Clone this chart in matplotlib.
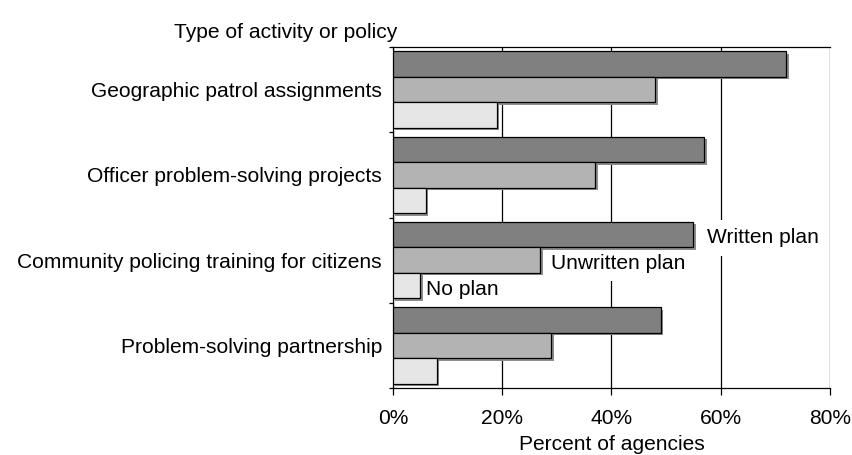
import numpy as np
import matplotlib
matplotlib.use("Agg")
import matplotlib.pyplot as plt
import matplotlib.patheffects as pe

plt.rcParams['font.family'] = ['Liberation Sans', 'DejaVu Sans']

# data (percent of agencies)
activities = ['Geographic patrol assignments',
              'Officer problem-solving projects',
              'Community policing training for citizens',
              'Problem-solving partnership']
written = [72, 57, 55, 49]
unwritten = [48, 37, 27, 29]
no_plan = [19, 6, 5, 8]
series_names = ['Written plan', 'Unwritten plan', 'No plan']
series_colors = ['#808080', '#b3b3b3', '#e6e6e6']
x_ticks = [0, 20, 40, 60, 80]

FS = 15.1

fig = plt.figure(figsize=(8.53, 4.55), dpi=100)
ax = fig.add_axes([393 / 853, 1 - 388 / 455, 437 / 853, 341 / 455])

centers = np.arange(len(activities))
bar_h = 0.3
shadow = [pe.SimplePatchShadow(offset=(1.8, -1.8), shadow_rgbFace='#8c8c8c', alpha=1.0), pe.Normal()]

for k, (vals, col) in enumerate(zip([written, unwritten, no_plan], series_colors)):
    bars = ax.barh(centers + (k - 1) * bar_h, vals, height=bar_h, color=col,
                   edgecolor='black', linewidth=0.9, zorder=3)
    for b in bars:
        b.set_path_effects(shadow)

ax.set_xlim(0, 80)
ax.set_ylim(len(activities) - 0.5, -0.5)
ax.set_xticks(x_ticks)
ax.set_xticklabels([f'{t}%' for t in x_ticks], fontsize=FS)
ax.tick_params(axis='x', direction='out', length=5, width=0.9, pad=10)

# category labels at group centers, ticks at group boundaries
ax.set_yticks(centers)
ax.set_yticklabels(activities, fontsize=FS)
ax.tick_params(axis='y', length=0, pad=8)
ax.set_yticks(np.arange(len(activities) + 1) - 0.5, minor=True)
ax.tick_params(axis='y', which='minor', direction='out', length=3, width=0.9)

ax.grid(axis='x', color='black', linewidth=0.9, zorder=0)
ax.set_axisbelow(True)
for s in ax.spines.values():
    s.set_linewidth(0.9)
ax.spines['right'].set_visible(False)

ax.set_xlabel('Percent of agencies', fontsize=FS, labelpad=5)
fig.text(174 / 853, 1 - 33 / 455, 'Type of activity or policy', fontsize=FS,
         ha='left', va='center')

# direct labels next to the community policing bars
g = 2
offsets = [2.5, 2.0, 1.0]
for k, (vals, name) in enumerate(zip([written, unwritten, no_plan], series_names)):
    ax.text(vals[g] + offsets[k], centers[g] + (k - 1) * bar_h + 0.04, name, fontsize=FS,
            ha='left', va='center', zorder=2,
            bbox=dict(facecolor='white', edgecolor='none', pad=6))

fig.savefig('out.png', dpi=100)
